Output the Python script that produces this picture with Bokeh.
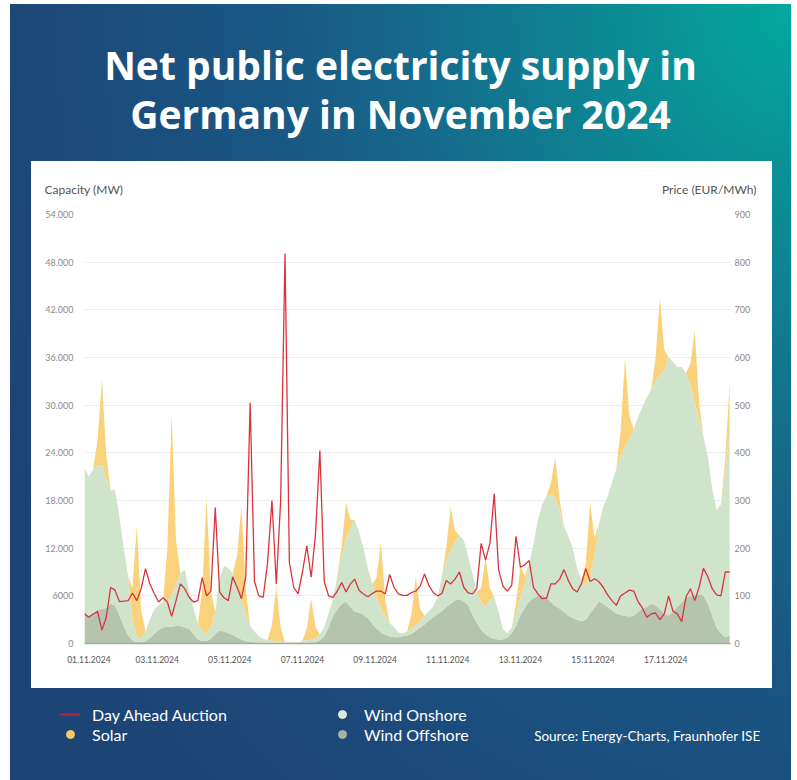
from bokeh.plotting import figure
from bokeh.layouts import column
from bokeh.models import (ColumnDataSource, Range1d, LinearAxis, FixedTicker,
                          Label, Legend, LegendItem)
from bokeh.embed import file_html
from bokeh.resources import INLINE

# time axis: hours since 01.11.2024 00:00, 3-hour samples up to 19.11.2024 12:00
hours = list(range(0, 445, 3))

# Wind offshore (MW), 8 samples per day
wind_offshore = [
    4200, 3400, 3800, 4300, 4300, 4500, 5000, 4800,   # 01.11
    3600, 2200, 1000, 400, 200, 150, 300, 700,        # 02.11
    1200, 1700, 2000, 2100, 2100, 2200, 2200, 2000,   # 03.11
    1800, 1200, 500, 300, 300, 600, 1200, 1600,       # 04.11
    1500, 1300, 1100, 800, 500, 300, 200, 150,        # 05.11
    120, 100, 100, 100, 100, 80, 70, 70,              # 06.11
    70, 80, 100, 120, 150, 200, 400, 900,             # 07.11
    2000, 3500, 4300, 5000, 5300, 4600, 4000, 3900,   # 08.11
    3600, 3200, 2500, 1900, 1400, 1100, 900, 800,     # 09.11
    800, 900, 1000, 1200, 1600, 2000, 2400, 2900,     # 10.11
    3300, 3700, 4100, 4600, 5000, 5400, 5600, 5300,   # 11.11
    4800, 3600, 2600, 1700, 1200, 800, 600, 500,      # 12.11
    500, 800, 1300, 2200, 3600, 4500, 5300, 5700,     # 13.11
    6000, 6100, 5800, 5200, 4700, 4400, 4000, 3500,   # 14.11
    3200, 3000, 2800, 3000, 3800, 4500, 5300, 5000,   # 15.11
    4600, 4200, 3800, 3600, 3500, 3400, 3500, 4000,   # 16.11
    4400, 4600, 5000, 4800, 4300, 3800, 3500, 4000,   # 17.11
    4600, 5200, 5800, 6000, 6100, 6200, 6000, 5000,   # 18.11
    3500, 2000, 1300, 800, 1000,                      # 19.11
]

# Wind onshore (MW)
wind_onshore = [
    17900, 17600, 18200, 18100, 18200, 16300, 14300, 14500,   # 01.11
    12400, 9800, 7500, 2600, 700, 550, 1200, 2300,            # 02.11
    3100, 3100, 3200, 3300, 3900, 5300, 6600, 7300,           # 03.11
    4700, 3300, 2000, 1300, 1000, 1400, 2800, 6600,           # 04.11
    8300, 8200, 7700, 6700, 5000, 3500, 2000, 1350,           # 05.11
    780, 500, 300, 250, 200, 120, 100, 100,                   # 06.11
    100, 120, 200, 280, 350, 500, 800, 1100,                  # 07.11
    1800, 2000, 4200, 6000, 8000, 9900, 11500, 10100,         # 08.11
    8400, 6300, 5000, 3900, 3100, 2400, 1700, 1200,           # 09.11
    600, 400, 500, 700, 700, 800, 1100, 1200,                 # 10.11
    1400, 2100, 4400, 5900, 6700, 7400, 8000, 7700,           # 11.11
    6200, 5200, 3900, 3500, 3400, 4700, 5200, 3500,           # 12.11
    1300, 500, 700, 1600, 2200, 3000, 4700, 6800,             # 13.11
    9500, 11400, 12700, 13600, 13700, 12400, 10800, 10000,    # 14.11
    8800, 6500, 5200, 4300, 4700, 6500, 9700, 12200,          # 15.11
    13900, 16000, 18200, 19900, 21300, 22400, 23500, 24500,   # 16.11
    25400, 26400, 27000, 28200, 29500, 30700, 32500, 31500,   # 17.11
    30200, 29600, 28200, 26500, 24100, 21800, 20000, 18500,   # 18.11
    16000, 14800, 16200, 20700, 26000,                        # 19.11
]

# Solar (MW) at 09:00, 12:00 and 15:00 of each day (zero at night)
solar_09 = [3200, 4000, 6500, 5000, 3500, 2000, 1500, 1300, 2500, 1800,
            1600, 1800, 1200, 1500, 2800, 3300, 2900, 2700, 1700]
solar_12 = [10800, 13900, 22900, 17100, 11900, 6900, 5150, 4400, 8300, 6050,
            5500, 6200, 3900, 5000, 9300, 11200, 9800, 9200, 5800]
solar_15 = [2800, 3500, 5500, 4500, 3000, 1800, 1300, 1100, 2000, 1500,
            1400, 1500, 1000, 1300, 2300, 2800, 2500, 2300]

# Day Ahead Auction price (EUR/MWh)
price = [
    62, 55, 62, 67, 28, 55, 118, 112,        # 01.11
    88, 89, 90, 106, 90, 115, 157, 125,      # 02.11
    105, 87, 96, 87, 57, 90, 125, 115,       # 03.11
    97, 87, 90, 138, 100, 110, 285, 108,     # 04.11
    96, 90, 140, 118, 94, 140, 505, 130,     # 05.11
    100, 97, 170, 300, 125, 300, 818, 170,   # 06.11
    118, 104, 150, 205, 139, 230, 405, 130,  # 07.11
    100, 97, 110, 128, 108, 125, 135, 111,   # 08.11
    104, 98, 105, 110, 110, 104, 145, 118,   # 09.11
    104, 101, 101, 107, 110, 120, 146, 122,  # 10.11
    107, 100, 105, 132, 125, 135, 150, 118,  # 11.11
    106, 104, 115, 210, 175, 210, 314, 155,  # 12.11
    120, 110, 122, 225, 160, 165, 174, 118,  # 13.11
    104, 94, 95, 125, 125, 135, 155, 132,    # 14.11
    115, 108, 125, 157, 130, 136, 130, 118,  # 15.11
    102, 90, 80, 100, 106, 112, 110, 88,     # 16.11
    74, 55, 62, 64, 50, 62, 100, 68,         # 17.11
    62, 46, 98, 115, 90, 118, 158, 140,      # 18.11
    115, 102, 100, 150, 150,                 # 19.11
]

cap_ticks = [0, 6000, 12000, 18000, 24000, 30000, 36000, 42000, 48000, 54000]
cap_tick_labels = ["0", "6000", "12.000", "18.000", "24.000", "30.000",
                   "36.000", "42.000", "48.000", "54.000"]
price_ticks = [0, 100, 200, 300, 400, 500, 600, 700, 800, 900]
date_tick_hours = [3, 50, 100, 150, 200, 250, 300, 350, 400]
date_tick_labels = ["01.11.2024", "03.11.2024", "05.11.2024", "07.11.2024",
                    "09.11.2024", "11.11.2024", "13.11.2024", "15.11.2024",
                    "17.11.2024"]

solar = [0] * len(hours)
for d, v in enumerate(solar_09):
    solar[8 * d + 3] = v
for d, v in enumerate(solar_12):
    solar[8 * d + 4] = v
for d, v in enumerate(solar_15):
    solar[8 * d + 5] = v

src = ColumnDataSource(dict(t=hours, off=wind_offshore, on=wind_onshore,
                            solar=solar, price=price))

C_OFF = "#b4c4ad"
C_ON = "#d0e3cb"
C_SOLAR = "#fad27c"
C_RED = "#d9343c"
W = 797


def blank(height, css, y_range=(0, 1)):
    f = figure(width=W, height=height, x_range=Range1d(0, 1),
               y_range=Range1d(*y_range), min_border=0, frame_align=False,
               x_axis_location=None, y_axis_location=None,
               output_backend="svg", toolbar_location=None, title=None)
    f.grid.visible = False
    f.border_fill_color = None
    f.background_fill_color = None
    f.outline_line_color = None
    f.styles = css
    return f


def lab(f, x, y, text, size, color="#ffffff", align="left", font="Lato",
        style="normal"):
    f.add_layout(Label(x=x, y=y, x_units="screen", y_units="screen", text=text,
                       text_font=font, text_font_size=size, text_color=color,
                       text_align=align, text_baseline="middle",
                       text_font_style=style))


# ---- top: title and card header (page y 0..204)
top = blank(204, {"background": "linear-gradient(#ffffff, #ffffff) 31px 161px / 741px 43px no-repeat"})
lab(top, 400, 140, "Net public electricity supply in", "39px", align="center",
    font="Open Sans", style="bold")
lab(top, 400, 91, "Germany in November 2024", "39px", align="center",
    font="Open Sans", style="bold")
lab(top, 44, 15, "Capacity (MW)", "12px", color="#555555")
lab(top, 756, 15, "Price (EUR/MWh)", "12px", color="#555555", align="right")

# ---- chart (page y 204..700)
p = figure(frame_width=646, frame_height=429,
           min_border_left=84, min_border_right=67,
           min_border_top=10, min_border_bottom=57, frame_align=False,
           x_range=Range1d(0, 444.6), y_range=Range1d(0, 54000),
           output_backend="svg", toolbar_location=None, title=None)
p.border_fill_color = None
p.background_fill_color = None
p.outline_line_color = None
p.styles = {"background": "linear-gradient(#ffffff, #ffffff) 31px 0px / 741px 484px no-repeat"}

stack = p.varea_stack(stackers=["off", "on", "solar"], x="t",
                      color=[C_OFF, C_ON, C_SOLAR], source=src)

p.extra_y_ranges = {"price": Range1d(0, 900)}
line = p.line("t", "price", source=src, y_range_name="price",
              line_color=C_RED, line_width=1.3)

p.xaxis.ticker = FixedTicker(ticks=date_tick_hours)
p.xaxis.major_label_overrides = dict(zip(date_tick_hours, date_tick_labels))
p.xaxis.axis_line_color = "#a8a8a8"
p.xaxis.axis_line_width = 1.5
p.xaxis.major_tick_line_color = None
p.xaxis.minor_tick_line_color = None
p.xaxis.major_tick_out = 0
p.xaxis.major_label_text_font = "Lato"
p.xaxis.major_label_text_font_size = "8.5px"
p.xaxis.major_label_text_color = "#555555"
p.xaxis.major_label_standoff = 12

p.yaxis.ticker = FixedTicker(ticks=cap_ticks)
p.yaxis.major_label_overrides = dict(zip(cap_ticks, cap_tick_labels))
p.yaxis.axis_line_color = None
p.yaxis.major_tick_line_color = None
p.yaxis.minor_tick_line_color = None
p.yaxis.major_tick_out = 0
p.yaxis.major_label_text_font = "Lato"
p.yaxis.major_label_text_font_size = "9px"
p.yaxis.major_label_text_color = "#8a8a8a"
p.yaxis.major_label_standoff = 11

ax_r = LinearAxis(y_range_name="price", ticker=FixedTicker(ticks=price_ticks),
                  axis_line_color=None, major_tick_line_color=None,
                  minor_tick_line_color=None, major_tick_out=0,
                  major_label_text_font="Lato", major_label_text_font_size="9px",
                  major_label_text_color="#8a8a8a", major_label_standoff=4)
p.add_layout(ax_r, "right")

p.xgrid.visible = False
p.ygrid.ticker = FixedTicker(ticks=cap_ticks)
p.ygrid.grid_line_color = "#ececec"
p.ygrid.grid_line_width = 1

# ---- bottom: legend and source (page y 700..780)
bot = blank(80, {}, y_range=(-2, -1))
lg_line = bot.line("t", "price", source=src, line_color="#b8243c", line_width=2)
lg_sol = bot.scatter("t", "solar", source=src, marker="circle", size=10,
                     color="#f6c964")
lg_on = bot.scatter("t", "on", source=src, marker="circle", size=10,
                    color="#dcebd6")
lg_off = bot.scatter("t", "off", source=src, marker="circle", size=10,
                     color="#a7b39f")
legend = Legend(items=[
    LegendItem(label="Day Ahead Auction", renderers=[lg_line]),
    LegendItem(label="Solar", renderers=[lg_sol]),
    LegendItem(label="Wind Onshore", renderers=[lg_on]),
    LegendItem(label="Wind Offshore", renderers=[lg_off]),
], location=(60, 36), orientation="vertical", nrows=2,
    glyph_width=20, glyph_height=20, label_standoff=12, label_width=240,
    label_height=18, spacing=-4, padding=0, margin=0,
    label_text_font="Lato", label_text_font_size="16px",
    label_text_color="#ffffff", background_fill_alpha=0,
    border_line_color=None)
bot.add_layout(legend, "center")
lab(bot, 760, 45, "Source: Energy-Charts, Fraunhofer ISE", "13.5px", align="right")

layout = column(top, p, bot, spacing=0, styles={
    "background": "radial-gradient(ellipse 115% 140% at 100% 0%, #03a89e 0%, #0c8a94 20%, "
                  "#156c8c 40%, #1a5683 60%, #1c4a7a 80%, #1c4474 100%) "
                  "10px 4px / 781px 776px no-repeat, #ffffff"})

open("out.html", "w").write(file_html(layout, INLINE))
